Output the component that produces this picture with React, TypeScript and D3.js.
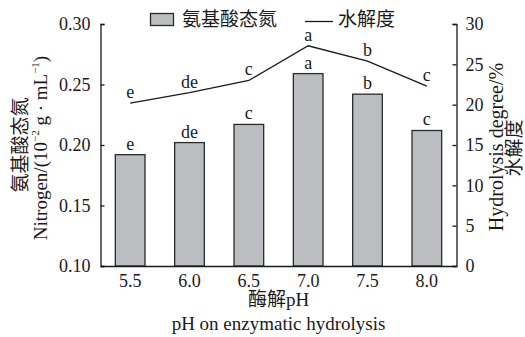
import React, { useEffect, useRef } from 'react'
import * as d3 from 'd3'

// data
const phLabels = ['5.5', '6.0', '6.5', '7.0', '7.5', '8.0']
const nitrogen = [0.192, 0.202, 0.217, 0.259, 0.242, 0.212]
const hydrolysis = [20.2, 21.5, 23.0, 27.3, 25.4, 22.3]
const barLetters = ['e', 'de', 'c', 'a', 'b', 'c']
const lineLetters = ['e', 'de', 'c', 'a', 'b', 'c']
const leftTicks = [0.10, 0.15, 0.20, 0.25, 0.30]
const rightTicks = [0, 5, 10, 15, 20, 25, 30]

const FONT = '"Liberation Serif", Tinos, "DejaVu Serif", serif, "Noto Sans CJK SC"'

export default function App() {
  const ref = useRef<SVGSVGElement>(null)

  useEffect(() => {
    const svg = d3.select(ref.current)
    svg.selectAll('*').remove()

    const left = 100.5, right = 456.5, top = 24, bottom = 266

    const x = d3.scaleBand()
      .domain(phLabels)
      .range([left, right])
      .paddingInner(0.5)
      .paddingOuter(0.25)

    const yL = d3.scaleLinear().domain([0.10, 0.30]).range([bottom, top])
    const yR = d3.scaleLinear().domain([0, 30]).range([bottom, top])

    const g = svg.append('g').attr('font-family', FONT).attr('fill', '#1a1a1a')

    // bars
    g.selectAll('rect.bar')
      .data(nitrogen)
      .enter().append('rect')
        .attr('class', 'bar')
        .attr('x', (_, i) => x(phLabels[i])!)
        .attr('y', d => yL(d))
        .attr('width', x.bandwidth())
        .attr('height', d => bottom - yL(d))
        .attr('fill', '#bcbdc0')
        .attr('stroke', '#2a2a2a')
        .attr('stroke-width', 1.3)

    g.selectAll('text.barlab')
      .data(nitrogen)
      .enter().append('text')
        .attr('class', 'barlab')
        .attr('x', (_, i) => x(phLabels[i])! + x.bandwidth() / 2)
        .attr('y', d => yL(d) - 5)
        .attr('text-anchor', 'middle')
        .attr('font-size', 18)
        .text((_, i) => barLetters[i])

    // hydrolysis line
    const line = d3.line<number>()
      .x((_, i) => x(phLabels[i])! + x.bandwidth() / 2)
      .y(d => yR(d))

    g.append('path')
      .attr('d', line(hydrolysis))
      .attr('fill', 'none')
      .attr('stroke', '#1a1a1a')
      .attr('stroke-width', 1.3)

    g.selectAll('text.linelab')
      .data(hydrolysis)
      .enter().append('text')
        .attr('class', 'linelab')
        .attr('x', (_, i) => x(phLabels[i])! + x.bandwidth() / 2)
        .attr('y', d => yR(d) - 5)
        .attr('text-anchor', 'middle')
        .attr('font-size', 18)
        .text((_, i) => lineLetters[i])

    // axes
    const axL = d3.axisLeft(yL).tickValues(leftTicks).tickSize(-4).tickPadding(10)
      .tickFormat(d3.format('.2f'))
    const axR = d3.axisRight(yR).tickValues(rightTicks).tickSize(-4).tickPadding(9)
    const axB = d3.axisBottom(x).tickSize(0).tickPadding(8)

    const styleAxis = (sel: any) => {
      sel.attr('font-family', FONT)
      sel.select('.domain').attr('stroke', '#1a1a1a').attr('stroke-width', 1.3)
      sel.selectAll('.tick line').attr('stroke', '#1a1a1a').attr('stroke-width', 1.3)
      sel.selectAll('.tick text').attr('font-size', 18).attr('fill', '#1a1a1a')
    }

    g.append('g').attr('transform', `translate(${left},0)`).call(axL).call(styleAxis)
    g.append('g').attr('transform', `translate(${right},0)`).call(axR).call(styleAxis)
    g.append('g').attr('transform', `translate(0,${bottom})`).call(axB).call(styleAxis)

    // axis titles
    const cx = (left + right) / 2
    g.append('text').attr('x', cx).attr('y', 306).attr('text-anchor', 'middle')
      .attr('font-size', 19).text('酶解pH')
    g.append('text').attr('x', cx).attr('y', 330).attr('text-anchor', 'middle')
      .attr('font-size', 19).text('pH on enzymatic hydrolysis')

    g.append('text').attr('transform', 'translate(27,145) rotate(-90)')
      .attr('text-anchor', 'middle').attr('font-size', 19).text('氨基酸态氮')
    const nl = g.append('text').attr('transform', 'translate(47,148) rotate(-90)')
      .attr('text-anchor', 'middle').attr('font-size', 19)
    nl.append('tspan').text('Nitrogen/(10')
    nl.append('tspan').attr('font-size', 11).attr('dy', -8).text('−2')
    nl.append('tspan').attr('dy', 8).text(' g · mL')
    nl.append('tspan').attr('font-size', 11).attr('dy', -8).text('−1')
    nl.append('tspan').attr('dy', 8).text(')')

    g.append('text').attr('transform', 'translate(503,147) rotate(-90)')
      .attr('text-anchor', 'middle').attr('font-size', 20).text('Hydrolysis degree/%')
    g.append('text').attr('transform', 'translate(521,148) rotate(-90)')
      .attr('text-anchor', 'middle').attr('font-size', 19).text('水解度')

    // legend
    g.append('rect').attr('x', 150.5).attr('y', 13.5).attr('width', 23).attr('height', 12)
      .attr('fill', '#bcbdc0').attr('stroke', '#2a2a2a').attr('stroke-width', 1.3)
    g.append('text').attr('x', 182).attr('y', 26).attr('font-size', 19).text('氨基酸态氮')
    g.append('line').attr('x1', 305).attr('x2', 333).attr('y1', 21.5).attr('y2', 21.5)
      .attr('stroke', '#1a1a1a').attr('stroke-width', 1.3)
    g.append('text').attr('x', 338).attr('y', 26).attr('font-size', 19).text('水解度')
  }, [])

  return (
    <svg ref={ref} width={525} height={337}
      style={{ position: 'absolute', left: 0, top: 0, background: '#fff' }} />
  )
}
